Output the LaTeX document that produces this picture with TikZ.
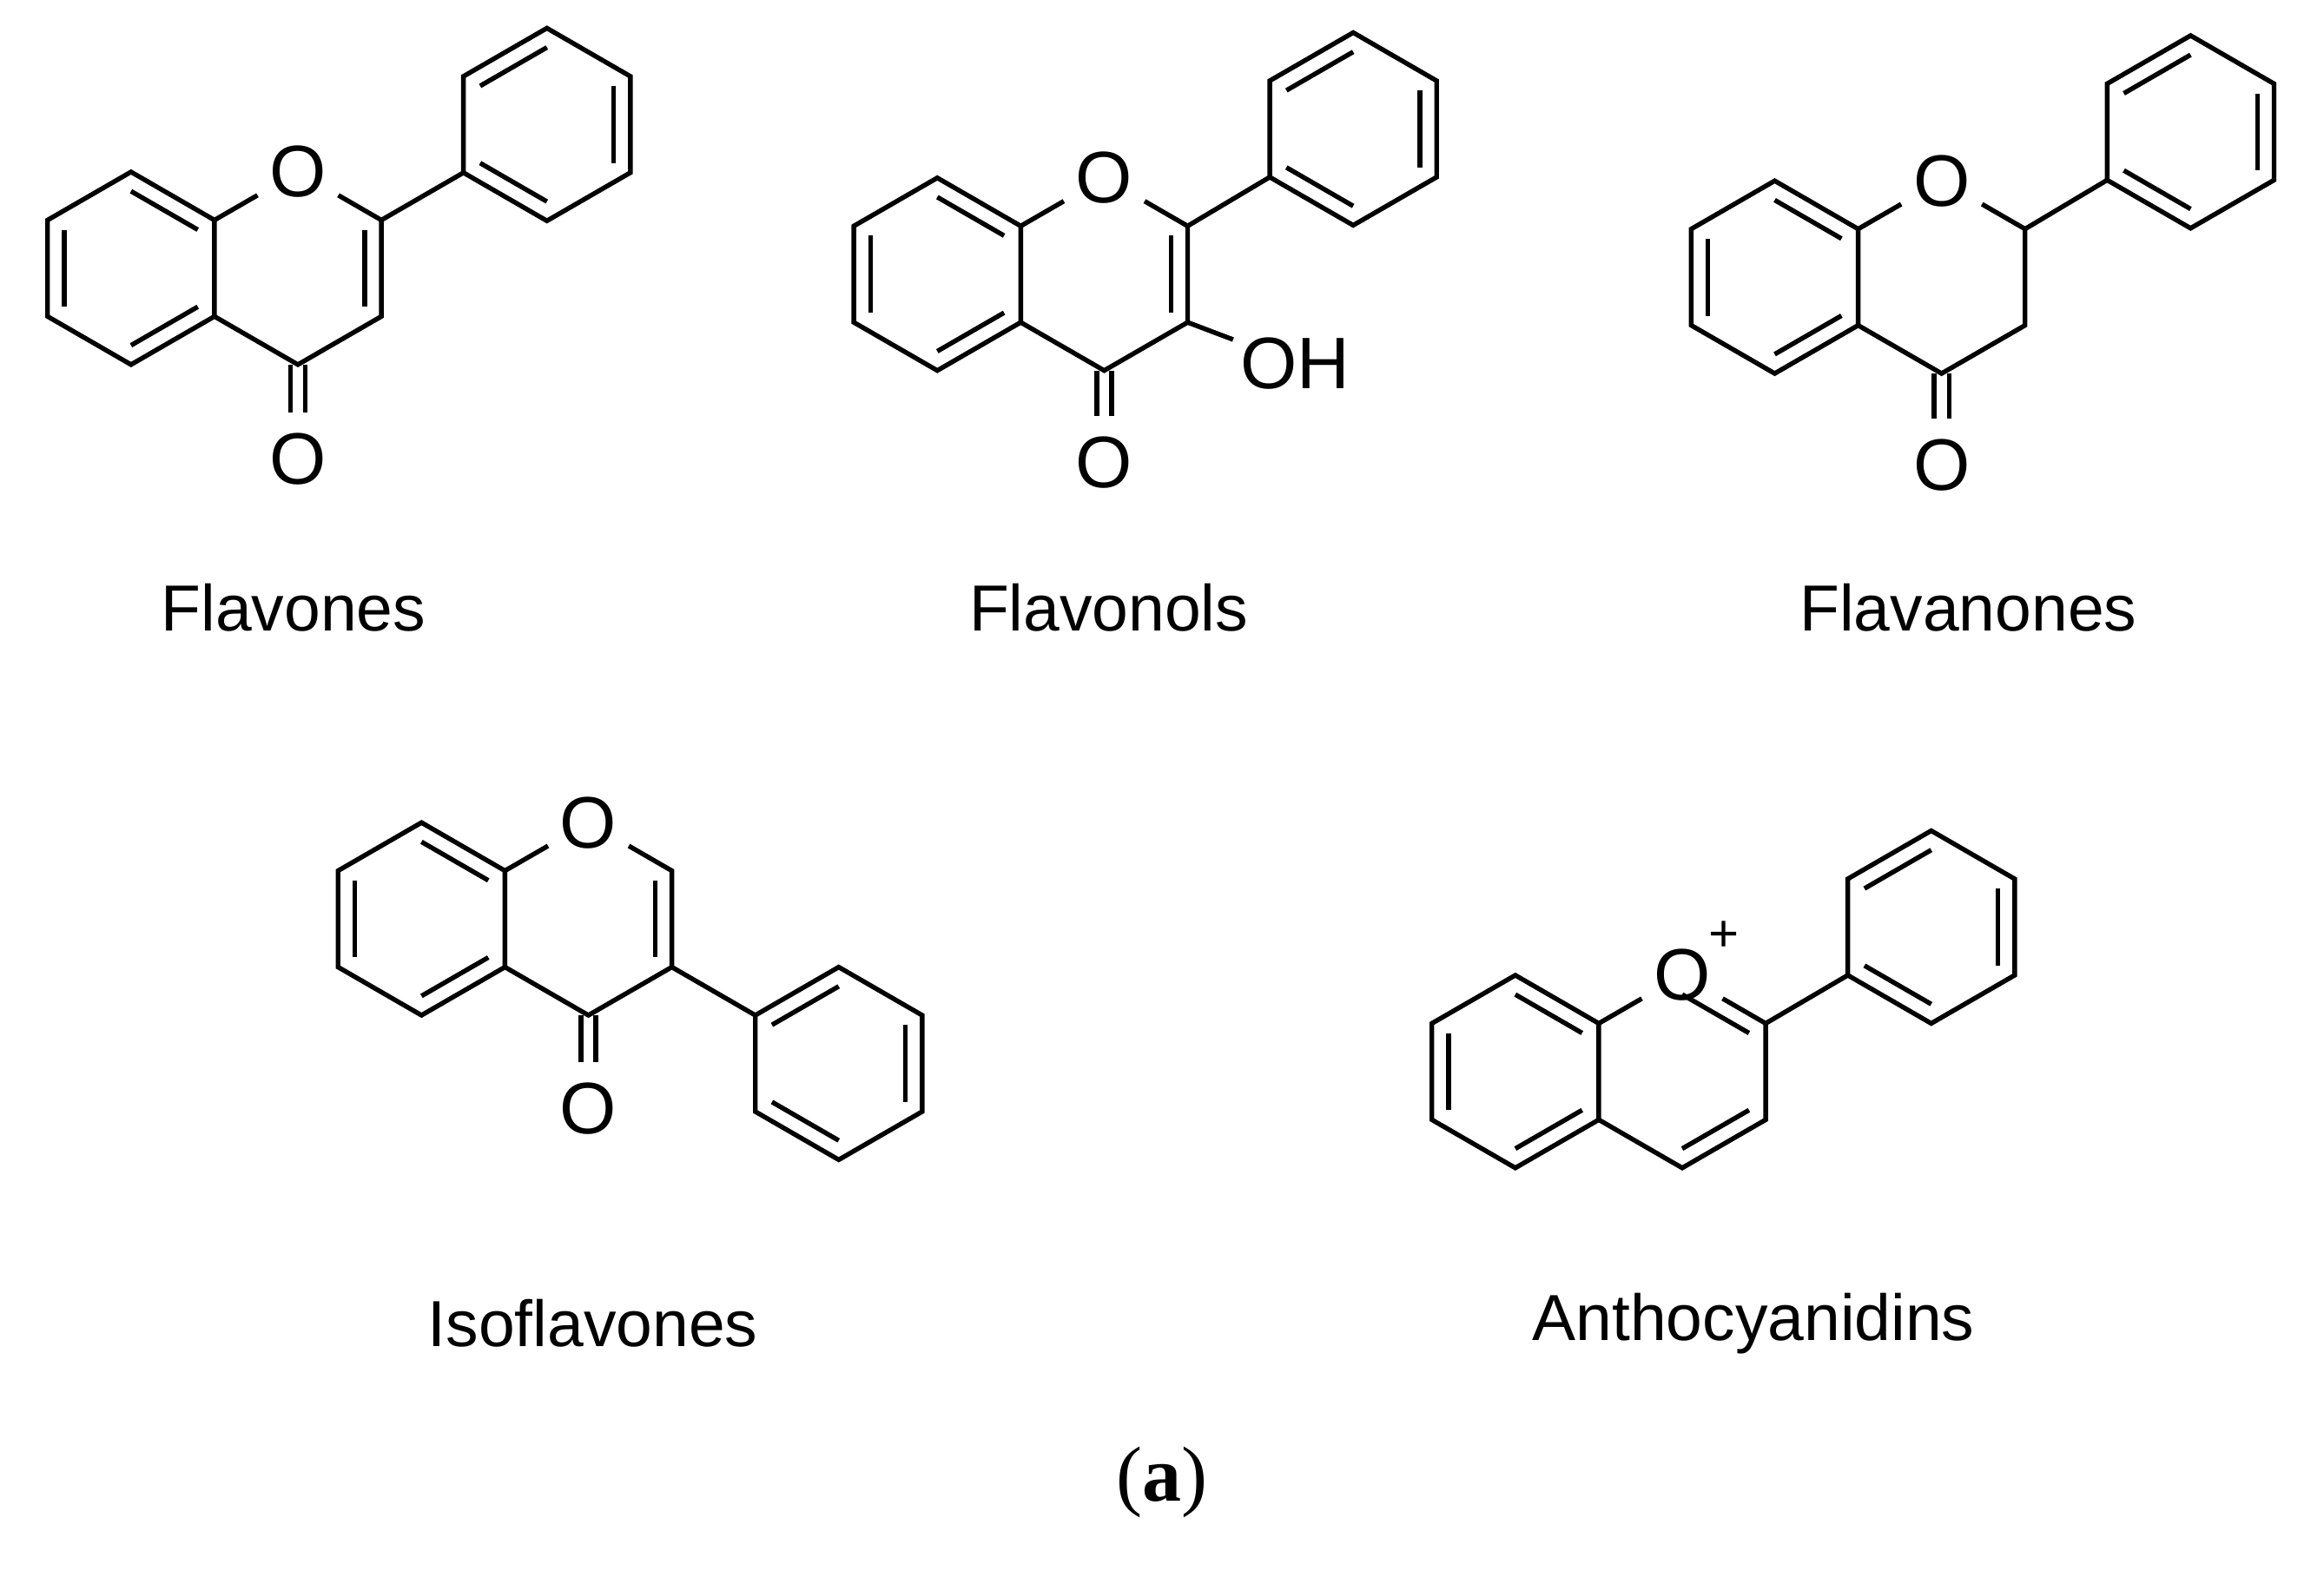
\documentclass[tikz,border=0pt]{standalone}
\usepackage{fontspec}
\setmainfont{Liberation Sans}
\newfontfamily\serifb{Liberation Serif}
\usetikzlibrary{calc}
\newcommand\mkring[3]{%
 \coordinate (#1) at (#2,#3);
 \coordinate (#1-1) at (#2,#3-65);
 \coordinate (#1-2) at (#2+56.3,#3-32.5);
 \coordinate (#1-3) at (#2+56.3,#3+32.5);
 \coordinate (#1-4) at (#2,#3+65);
 \coordinate (#1-5) at (#2-56.3,#3+32.5);
 \coordinate (#1-6) at (#2-56.3,#3-32.5);}
\newcommand\dbl[3]{\draw ($(#1)!0.8!(#2)$) -- ($(#1)!0.8!(#3)$);}
\newcommand\benzo[1]{%
 \draw (#1-1)--(#1-2)--(#1-3)--(#1-4)--(#1-5)--(#1-6)--cycle;
 \dbl{#1}{#1-6}{#1-5}\dbl{#1}{#1-1}{#1-2}\dbl{#1}{#1-3}{#1-4}}
\newcommand\phen[1]{%
 \draw (#1-1)--(#1-2)--(#1-3)--(#1-4)--(#1-5)--(#1-6)--cycle;
 \dbl{#1}{#1-6}{#1-1}\dbl{#1}{#1-2}{#1-3}\dbl{#1}{#1-4}{#1-5}}
\newcommand\carbonyl[2]{%
 \draw ($(#1)+(-5,0)$) -- ($(#2.north)+(-5,0)$);
 \draw ($(#1)+(5,0)$) -- ($(#2.north)+(5,0)$);}
\begin{document}
\begin{tikzpicture}[x=0.01cm,y=-0.01cm,line width=0.9pt,
  atom/.style={circle,inner sep=0.8pt,font=\fontsize{14}{15}\selectfont},
  lbl/.style={font=\fontsize{12.5}{15}\selectfont}]
\useasboundingbox (0,0) rectangle (1568,1073);
% Flavones
\mkring{fa}{88.4}{181}\mkring{fc}{201}{181}\mkring{fp}{369}{84}
\node[atom] (fO) at (fc-1) {O};
\node[atom] (fO2) at (201,310) {O};
\benzo{fa}\phen{fp}
\draw (fa-2)--(fO)--(fc-2)--(fc-3)--(fc-4)--(fa-3);
\dbl{fc}{fc-2}{fc-3}
\draw (fc-2)--(fp-5);
\carbonyl{fc-4}{fO2}
\node[lbl] (l1) at (198,410) {Flavones};
% Flavonols
\mkring{la}{632.4}{185}\mkring{lc}{745}{185}\mkring{lp}{913}{87}
\node[atom] (lO) at (lc-1) {O};
\node[atom] (lO2) at (745,312) {O};
\node[atom,rectangle,inner sep=1pt] (lOH) at (874,245) {OH};
\benzo{la}\phen{lp}
\draw (la-2)--(lO)--(lc-2)--(lc-3)--(lc-4)--(la-3);
\dbl{lc}{lc-2}{lc-3}
\draw (lc-2)--(lp-5);
\draw (lc-3)--(lOH);
\carbonyl{lc-4}{lO2}
\node[lbl] (l2) at (748,410) {Flavonols};
% Flavanones
\mkring{na}{1197.4}{187}\mkring{nc}{1310}{187}\mkring{np}{1478}{89}
\node[atom] (nO) at (nc-1) {O};
\node[atom] (nO2) at (1310,314) {O};
\benzo{na}\phen{np}
\draw (na-2)--(nO)--(nc-2)--(nc-3)--(nc-4)--(na-3);
\draw (nc-2)--(np-5);
\carbonyl{nc-4}{nO2}
\node[lbl] (l3) at (1328,410) {Flavanones};
% Isoflavones
\mkring{ia}{284.4}{620}\mkring{ic}{397}{620}\mkring{ip}{565.9}{717.5}
\node[atom] (iO) at (ic-1) {O};
\node[atom] (iO2) at (397,748) {O};
\benzo{ia}\phen{ip}
\draw (ia-2)--(iO)--(ic-2)--(ic-3)--(ic-4)--(ia-3);
\dbl{ic}{ic-2}{ic-3}
\draw (ic-3)--(ip-6);
\carbonyl{ic-4}{iO2}
\node[lbl] (l4) at (400,893) {Isoflavones};
% Anthocyanidins
\mkring{aa}{1022.4}{723}\mkring{ac}{1135}{723}\mkring{ap}{1303}{625.5}
\node[atom] (aO) at (ac-1) {O};
\node[font=\fontsize{10}{10}\selectfont,inner sep=0pt] (aplus) at (1163,632) {+};
\benzo{aa}\phen{ap}
\draw (aa-2)--(aO)--(ac-2)--(ac-3)--(ac-4)--(aa-3);
\dbl{ac}{ac-1}{ac-2}\dbl{ac}{ac-3}{ac-4}
\draw (ac-2)--(ap-5);
\node[lbl] (l5) at (1183,893) {Anthocyanidins};
\node[font=\serifb\fontsize{15}{18}\selectfont] (cap) at (784,1000) {(\textbf{a})};
\end{tikzpicture}
\end{document}
